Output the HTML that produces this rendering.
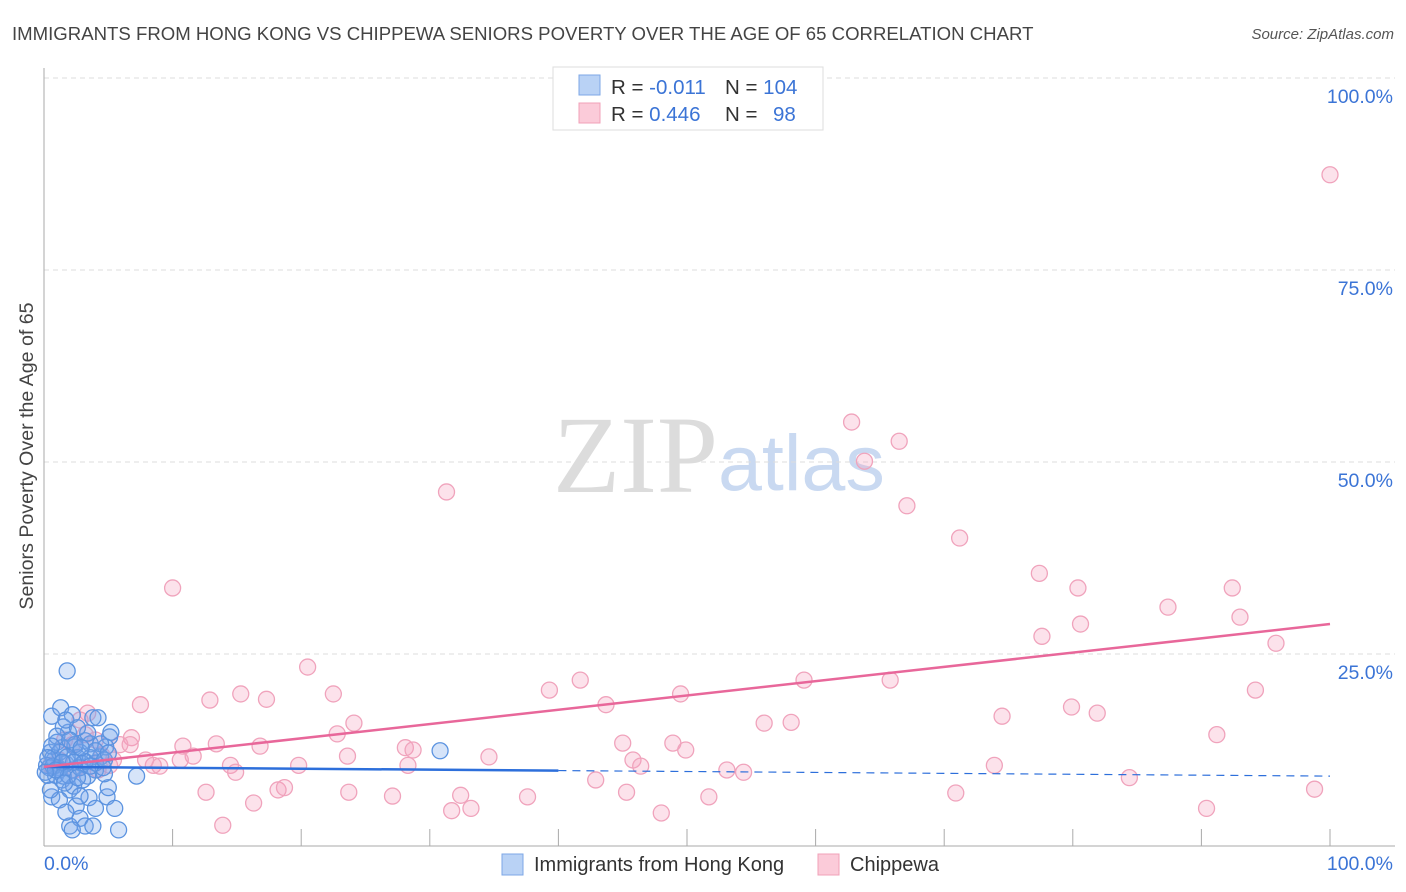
<!DOCTYPE html>
<html><head><meta charset="utf-8"><style>
body{margin:0;background:#fff;font-family:"Liberation Sans",sans-serif;}
svg{display:block}
</style></head><body>
<svg id="chart" width="1406" height="892">
<text x="12" y="40" font-size="18.6" fill="#444">IMMIGRANTS FROM HONG KONG VS CHIPPEWA SENIORS POVERTY OVER THE AGE OF 65 CORRELATION CHART</text>
<text x="1394" y="39" font-size="15" fill="#555" font-style="italic" text-anchor="end">Source: ZipAtlas.com</text>
<text transform="translate(33,456) rotate(-90)" font-size="19.6" fill="#444" text-anchor="middle">Seniors Poverty Over the Age of 65</text>
<text x="553" y="492" font-size="110" fill="#dcdcdc" font-family="Liberation Serif,serif">ZIP</text>
<text x="718" y="490" font-size="79" fill="#c9d9f1">atlas</text>
<g id="grid"></g><g id="axes"></g><g id="pinkpts"></g><g id="bluepts"></g><g id="lines"></g>
<g>
<rect x="553" y="67" width="270" height="63" fill="#fff" stroke="#ddd"/>
<rect x="579" y="75" width="21" height="20" fill="#b9d2f5" stroke="#7da7e6"/>
<rect x="579" y="103" width="21" height="20" fill="#fbcbd9" stroke="#f0a0b8"/>
<text x="611" y="94" font-size="20.5" fill="#333">R = <tspan fill="#3b74d6">-0.011</tspan></text>
<text x="725" y="94" font-size="20.5" fill="#333">N = <tspan fill="#3b74d6">104</tspan></text>
<text x="611" y="121" font-size="20.5" fill="#333">R = <tspan fill="#3b74d6"> 0.446</tspan></text>
<text x="725" y="121" font-size="20.5" fill="#333">N = <tspan fill="#3b74d6" x="773">98</tspan></text>
</g>
<g>
<rect x="502" y="854" width="21" height="21" fill="#b9d2f5" stroke="#7da7e6"/>
<text x="534" y="871" font-size="20" fill="#333">Immigrants from Hong Kong</text>
<rect x="818" y="854" width="21" height="21" fill="#fbcbd9" stroke="#f0a0b8"/>
<text x="850" y="871" font-size="20" fill="#333">Chippewa</text>
</g>
</svg>
<script>
const yTicks=[25,50,75,100];
const yTickLabels=["25.0%","50.0%","75.0%","100.0%"];
const xTicks=[10,20,30,40,50,60,70,80,90,100];
const blueX=[1.8,30.8,7.2,5.8,0.6,1.3,2.2,3.8,4.2,5.1,4.4,3.2,2.4,2.8,1.9,1.5,3.6,5.2,4.8,0.5,0.8,1.1,0.3,1.4,2.0,0.6,1.2,2.5,3.5,4.9,5.5,5.0,4.7,4.0,3.4,3.0,2.2,1.7,1.2,0.9,0.4,0.7,0.2,2.6,3.0,3.6,4.0,4.6,2.0,2.8,3.2,3.8,2.2,2.4,1.4,1.0,3.4,2.6,1.7,1.0,0.7,1.5,2.3,2.8,1.9,2.8,3.2,1.2,0.6,0.3,4.4,4.0,1.8,2.3,1.4,0.9,0.1,1.6,0.5,2.6,1.7,4.0,2.0,2.9,3.6,4.7,5.0];
const blueY=[22.8,12.4,9.1,2.1,16.9,18.0,17.1,16.7,16.7,14.2,11.6,13.7,12.9,12.2,14.8,15.5,13.3,14.8,12.9,12.2,11.2,10.2,9.2,8.6,7.3,6.4,6.0,5.2,6.3,6.4,4.9,7.6,9.4,9.9,9.1,8.6,9.9,10.7,9.9,9.2,10.2,11.5,10.5,11.5,10.7,11.5,10.8,10.2,2.6,3.6,2.6,2.6,2.1,13.2,12.8,13.5,14.7,15.4,16.4,14.3,10.4,9.1,7.8,6.5,9.2,10.2,11.0,12.2,13.0,11.5,13.3,12.4,11.6,10.9,10.9,9.9,9.6,8.2,7.3,8.9,4.4,4.9,13.8,12.8,10.4,11.2,12.1];
const pinkX=[10.0,31.3,62.8,66.5,63.8,67.1,71.2,77.4,80.4,100,92.4,87.4,93.0,77.6,80.6,95.8,20.5,7.5,12.9,15.3,17.3,22.5,39.3,41.7,43.7,49.5,59.1,65.8,94.2,74.5,79.9,81.9,56.0,58.1,24.1,91.2,6.8,3.4,10.8,13.4,16.8,22.8,28.1,28.7,34.6,45.0,48.9,49.9,45.8,46.4,53.1,54.4,73.9,84.4,8.5,9.0,11.6,14.5,14.9,19.8,23.6,28.3,12.6,18.2,18.7,23.7,27.1,32.4,37.6,42.9,45.3,51.7,70.9,98.8,90.4,16.3,31.7,33.2,48.0,13.9,4.5,5.9,4.0,5.1,6.7,2.2,2.8,1.2,2.4,3.2,1.6,0.5,7.9,5.4,10.6,4.2];
const pinkY=[33.6,46.1,55.2,52.7,50.1,44.3,40.1,35.5,33.6,87.4,33.6,31.1,29.8,27.3,28.9,26.4,23.3,18.4,19.0,19.8,19.1,19.8,20.3,21.6,18.4,19.8,21.6,21.6,20.3,16.9,18.1,17.3,16.0,16.1,16.0,14.5,14.1,17.3,13.0,13.3,13.0,14.6,12.8,12.5,11.6,13.4,13.4,12.5,11.2,10.4,9.9,9.6,10.5,8.9,10.5,10.4,11.7,10.5,9.6,10.5,11.7,10.5,7.0,7.3,7.6,7.0,6.5,6.6,6.4,8.6,7.0,6.4,6.9,7.4,4.9,5.6,4.6,4.9,4.3,2.7,11.8,13.2,13.8,10.5,13.2,13.2,16.4,11.2,9.9,14.5,13.8,10.5,11.2,11.2,11.2,9.9];
const blueTrend=[10.3,9.1];
const pinkTrend=[10.3,28.9];
const NS='http://www.w3.org/2000/svg';
const X=v=>44+v*12.86, Y=v=>846-v*7.68;
function mk(t,a,p){const e=document.createElementNS(NS,t);for(const k in a)e.setAttribute(k,a[k]);p.appendChild(e);return e;}
const grid=document.getElementById('grid');
yTicks.forEach((t,i)=>{
  const l=mk('line',{x1:44,x2:1395,y1:Y(t),y2:Y(t),stroke:'#ddd','stroke-dasharray':'5,4'},grid);
  
  
  const tx=mk('text',{x:1393,y:Y(t)+25,'font-size':19.5,fill:'#3b74d6','text-anchor':'end'},grid);
  tx.textContent=yTickLabels[i];
  
  
});
const axes=document.getElementById('axes');
mk('line',{x1:44,x2:44,y1:68,y2:846,stroke:'#aaa'},axes);
mk('line',{x1:44,x2:1395,y1:846,y2:846,stroke:'#aaa'},axes);
xTicks.forEach(t=>{const l=mk('line',{x1:X(t),x2:X(t),y1:846,y2:829,stroke:'#aaa'},axes);
  
  });
const x0=mk('text',{x:44,y:870,'font-size':19.5,fill:'#3b74d6'},axes);x0.textContent='0.0%';


const x1=mk('text',{x:1393,y:870,'font-size':19.5,fill:'#3b74d6','text-anchor':'end'},axes);x1.textContent='100.0%';


const pp=document.getElementById('pinkpts');
pinkX.forEach((v,i)=>{const c=mk('circle',{cx:X(v),cy:Y(pinkY[i]),r:8,fill:'rgba(244,160,188,0.3)',stroke:'#f0a3bc','stroke-width':1.3},pp);
  
  });
const bp=document.getElementById('bluepts');
blueX.forEach((v,i)=>{const c=mk('circle',{cx:X(v),cy:Y(blueY[i]),r:8,fill:'rgba(120,165,235,0.3)',stroke:'#5b93e0','stroke-width':1.3},bp);
  
  });
const ln=document.getElementById('lines');
const bAt=x=>blueTrend[0]+(blueTrend[1]-blueTrend[0])*x/100;
const l1=mk('line',{x1:X(0),y1:Y(bAt(0)),x2:X(40),y2:Y(bAt(40)),stroke:'#2d6fdb','stroke-width':2.5},ln);


const l2=mk('line',{x1:X(40),y1:Y(bAt(40)),x2:X(100),y2:Y(bAt(100)),stroke:'#2d6fdb','stroke-width':1.2,'stroke-dasharray':'8,6'},ln);


const l3=mk('line',{x1:X(0),y1:Y(pinkTrend[0]),x2:X(100),y2:Y(pinkTrend[1]),stroke:'#e8679a','stroke-width':2.5},ln);


</script>
</body></html>
